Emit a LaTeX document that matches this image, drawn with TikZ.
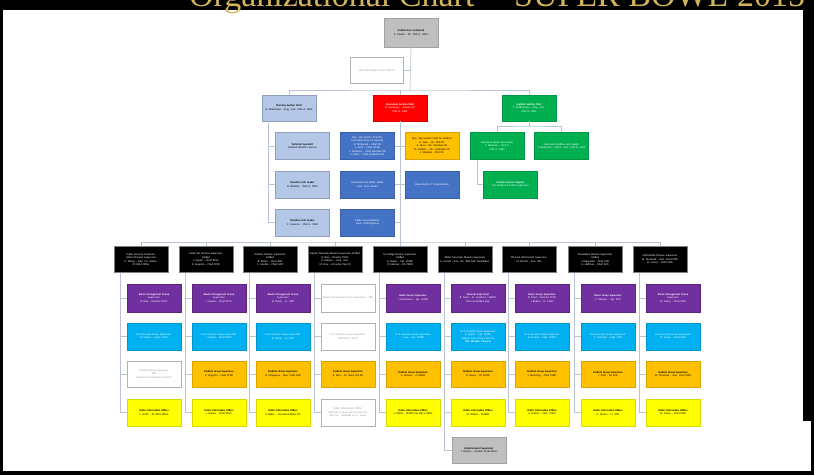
\documentclass[tikz,border=0pt]{standalone}
\usepackage{fontspec}
\setmainfont{Carlito}
\newfontfamily\titlefont{Liberation Serif}
\usetikzlibrary{calc}
\definecolor{cpurple}{HTML}{7030A0}
\definecolor{ccyan}{HTML}{00B0F0}
\definecolor{corange}{HTML}{FFC000}
\definecolor{cyellow}{HTML}{FFFF00}
\definecolor{cblue}{HTML}{4472C4}
\definecolor{cpale}{HTML}{B4C7E7}
\definecolor{cred}{HTML}{FF0000}
\definecolor{cgreen}{HTML}{00B050}
\definecolor{cgray}{HTML}{BFBFBF}
\definecolor{cline}{HTML}{B8C4D6}
\definecolor{cgold}{HTML}{D2B45A}
\tikzset{
  orgbox/.style={rectangle, minimum width=54pt, minimum height=27pt, text width=50pt, inner sep=0.5pt, align=center, font=\fontsize{2.7}{3.5}\selectfont},
  pbox/.style={orgbox, fill=cpurple, draw=cpurple!80!black, text=white},
  cbox/.style={orgbox, fill=ccyan, draw=ccyan!85!black, text=white},
  obox/.style={orgbox, fill=corange, draw=corange!85!black, text=black},
  ybox/.style={orgbox, fill=cyellow, draw=cyellow!85!black, text=black},
  bbox/.style={orgbox, fill=cblue, draw=cblue!85!black, text=white},
  palebox/.style={orgbox, fill=cpale, draw=cpale!80!black, text=black},
  redbox/.style={orgbox, fill=cred, draw=cred!85!black, text=white},
  greenbox/.style={orgbox, fill=cgreen, draw=cgreen!85!black, text=white},
  graybox/.style={orgbox, fill=cgray, draw=cgray!85!black, text=black},
  divbox/.style={orgbox, fill=black, draw=gray, text=white, minimum height=26pt},
  offbox/.style={orgbox, fill=white, draw=gray!60, text=gray!80},
  conn/.style={draw=cline, line width=0.6pt}
}
\begin{document}
\begin{tikzpicture}[x=1pt,y=-1pt]
\useasboundingbox (0,0) rectangle (814,475);
\clip (0,0) rectangle (814,475);
\fill[black] (0,0) rectangle (814,475);
\fill[white] (3,10) rectangle (803,471);
\fill[white] (3,421) rectangle (811,471);
\node[text=cgold, font=\titlefont\fontsize{34}{34}\selectfont, anchor=base] (title) at (497,6) {Organizational Chart -- SUPER BOWL 2015};

% top level
\node[graybox, minimum height=29pt] (uac) at (411,32.5) {\textbf{Unified Area Command}\\A. Mosier -- Ch. PHX Lt. OEM};
\node[offbox, minimum width=53pt, minimum height=26pt] (jic) at (376.5,70.5) {Joint Information Center Officer};

% section chiefs
\node[palebox, minimum height=26pt] (plan) at (289,108) {\textbf{Planning Section Chief}\\B. Whitehead -- Prog. Asst. PHX Lt. OEM};
\node[redbox, minimum height=26pt] (ops) at (400,108) {\textbf{Operations Section Chief}\\D. Hennegan -- Deputy PD\\PHX Lt. OEM};
\node[greenbox, minimum height=26pt] (logi) at (529,108) {\textbf{Logistics Section Chief}\\C. Druffelmann -- Prog. Asst.\\PHX Lt. OEM};

% planning subs
\node[palebox] (ps1) at (302.5,146) {\textbf{Technical Specialist}\\National Weather Service};
\node[palebox] (ps2) at (302.5,184.5) {\textbf{Situation Unit Leader}\\B. Webster -- PHX Lt. OEM};
\node[palebox] (ps3) at (302.5,222.5) {\textbf{Situation Unit Leader}\\C. Cameron -- PHX Lt. OEM};

% operations subs
\node[bbox] (ob1) at (367.5,146) {Dep. Ops Section Chief for Law Enforcement \& Security\\D. McDonald -- Chief PD\\S. Scott -- Chief MCSO\\L. Mullaney -- Chief Glendale PD\\C. Hahn -- Chief Scottsdale PD};
\node[bbox] (ob2) at (367.5,184.5) {Department of Public Safety\\Lieut. Dave Dolant};
\node[bbox] (ob3) at (367.5,222.5) {Public Local Relations\\Lieut. Matt Highway};
\node[obox] (oo1) at (432,146) {Dep. Ops Section Chief for Medical\\E. Sabo -- Dir. PHX FD\\K. Nerci -- Dir. Glendale FD\\M. Sanders -- Dir. Scottsdale FD\\J. Waldron -- PHX FD};
\node[bbox] (ob4) at (432,184.5) {Department of Transportation};

% logistics subs
\node[greenbox] (g1) at (497,146) {Communications Unit Leader\\T. Bozeman -- Tech II\\PHX Lt. OEM};
\node[greenbox] (g2) at (561.5,146) {Food and Facilities Unit Leader\\P. Kurkowski -- Admin. Asst. PHX Lt. OEM};
\node[greenbox] (g3) at (510.5,184.5) {\textbf{Unified Services Support}\\Fire Medical \& Public Supervisor};

% divisions
\node[divbox] (d1) at (141,259.5) {Public Security Communications Division Supervisor\\G. Moses -- Dep. Co. Admin.\\PC OEM Office};
\node[divbox] (d2) at (206,259.5) {Public Div Division Supervisor\\Unified\\J. Kaplan -- Chief PCSO\\K. Angevlin -- Chief PCFD};
\node[divbox] (d3) at (270,259.5) {Anthem Division Supervisor\\Unified\\B. Parker -- Chief APD\\C. Gordon -- Chief AFD};
\node[divbox] (d4) at (335,259.5) {Superb Township Division Supervisor Unified\\R. Bray -- Director PCSO\\K. Dobson -- Lieut. Asst.\\M. Zero -- AC Jackie Top FD};
\node[divbox] (d5) at (400,259.5) {Sun Ridge Division Supervisor\\Unified\\G. Kogler -- Cpt. ZMPD\\P. Coleman -- DC ZMFD};
\node[divbox] (d6) at (465,259.5) {Water Mountain Division Supervisor\\E. Carroll -- Asst. Dir. WM Park Foundation};
\node[divbox] (d7) at (529,259.5) {Pleasant Hill Division Supervisor\\M. Brandt -- Asst. DM};
\node[divbox] (d8) at (595,259.5) {Ahwatukee Division Supervisor\\Unified\\J. Edgecomb -- Chief APD\\G. Hoffman -- Chief AFD};
\node[divbox] (d9) at (660,259.5) {Mid-Middle Division Supervisor\\M. Olmstead -- Asst. Chief MPD\\M. Coney -- Chief MFD};

% column 1
\node[pbox, minimum height=28pt] (p1) at (154,298) {\textbf{Route Management Group}\\Supervisor\\R. Bray -- Director PCSO};
\node[cbox] (c1) at (154,336.5) {LE \& Security Group Supervisor\\D. Mahon -- Capt. PCSO};
\node[offbox, minimum height=26pt] (m1) at (154,374) {Medical Group Supervisor\\TBD\\Western Fire Resources District};
\node[ybox] (y1) at (154,412.5) {\textbf{Public Information Officer}\\L. Smith -- PC OEM Office};
% column 2
\node[pbox, minimum height=28pt] (p2) at (219,298) {\textbf{Route Management Group}\\Supervisor\\J. Kaplan -- Chief PCSO};
\node[cbox] (c2) at (219,336.5) {LE \& Security Group Supervisor\\J. Kaplan -- Chief PCSO};
\node[obox, minimum height=26pt] (m2) at (219,374) {\textbf{Medical Group Supervisor}\\K. Angevlin -- Chief PCFD};
\node[ybox] (y2) at (219,412.5) {\textbf{Public Information Officer}\\J. Kaplan -- Chief PCSO};
% column 3
\node[pbox, minimum height=28pt] (p3) at (283,298) {\textbf{Route Management Group}\\Supervisor\\B. Parker -- Lt. APD};
\node[cbox] (c3) at (283,336.5) {LE \& Security Group Supervisor\\B. Parker -- Lt. APD};
\node[obox, minimum height=26pt] (m3) at (283,374) {\textbf{Medical Group Supervisor}\\B. Chiappone -- Dep. Chief AFD};
\node[ybox] (y3) at (283,412.5) {\textbf{Public Information Officer}\\A. Baker -- Communications Dir.};
% column 4
\node[offbox, minimum height=28pt] (p4) at (348,298) {Route Management Group Supervisor -- TBD};
\node[offbox] (c4) at (348,336.5) {LE \& Security Group Supervisor\\Deferred to SR SE};
\node[obox, minimum height=26pt] (m4) at (348,374) {\textbf{Medical Group Supervisor}\\R. Zero -- AC Jackie Top FD};
\node[offbox] (y4) at (348,412.5) {Public Information Officer\\Deferred to Area Command \& Unified Info. Operated by Lt. Jackie};
% column 5
\node[pbox, minimum height=28pt] (p5) at (413,298) {\textbf{Route Group Supervisor}\\J. Rosenblum -- Sgt. ZMPD};
\node[cbox] (c5) at (413,336.5) {LE \& Security Group Supervisor\\J. Lee -- Cpt. ZMPD};
\node[obox, minimum height=26pt] (m5) at (413,374) {\textbf{Medical Group Supervisor}\\G. Masaro -- CJ ZMFD};
\node[ybox] (y5) at (413,412.5) {\textbf{Public Information Officer}\\S. White -- ZMPD City Mgr.'s Office};
% column 6
\node[pbox, minimum height=28pt] (p6) at (478,298) {\textbf{Grounds Supervisor}\\B. Travis -- Sr. Assistant / WMPF\\Park Foundation Rep.};
\node[cbox] (c6) at (478,336.5) {LE \& Security Group Supervisor\\G. Kogler -- Cpt. ZMPD\\Support from Private Security\\\textbf{D.B. Sheldon, Pinnacle}};
\node[obox, minimum height=26pt] (m6) at (478,374) {\textbf{Medical Group Supervisor}\\D. Hayes -- DC ZMFD};
\node[ybox] (y6) at (478,412.5) {\textbf{Public Information Officer}\\M. Walker -- ZMWM};
\node[graybox, minimum height=26pt] (ent) at (479,450) {\textbf{Entertainment Supervisor}\\T. Daniels -- Headart Productions};
% column 7
\node[pbox, minimum height=28pt] (p7) at (542,298) {\textbf{Route Group Supervisor}\\R. Peart -- Director PCSO\\J. Britton -- Lt. PCSO};
\node[cbox] (c7) at (542,336.5) {LE \& Security Group Supervisor\\B. Kramer -- Capt. PHPD};
\node[obox, minimum height=26pt] (m7) at (542,374) {\textbf{Medical Group Supervisor}\\J. Hemming -- Chief PHFD};
\node[ybox] (y7) at (542,412.5) {\textbf{Public Information Officer}\\A. Kramer -- Capt. PHPD};
% column 8
\node[pbox, minimum height=28pt] (p8) at (608,298) {\textbf{Route Group Supervisor}\\T. Gallegos -- Sgt. APD};
\node[cbox] (c8) at (608,336.5) {LE \& Security Group Supervisor\\T. Forbright -- Capt. APD};
\node[obox, minimum height=26pt] (m8) at (608,374) {\textbf{Medical Group Supervisor}\\J. Pratt -- BC AFD};
\node[ybox] (y8) at (608,412.5) {\textbf{Public Information Officer}\\G. Nelson -- Lt. APD};
% column 9
\node[pbox, minimum height=28pt] (p9) at (673,298) {\textbf{Route Management Group}\\Supervisor\\M. Coney -- Chief MFD};
\node[cbox] (c9) at (673,336.5) {LE \& Security Group Supervisor\\M. Coney -- Chief MFD};
\node[obox, minimum height=26pt] (m9) at (673,374) {\textbf{Medical Group Supervisor}\\M. Olmstead -- Asst. Chief MPD};
\node[ybox] (y9) at (673,412.5) {\textbf{Public Information Officer}\\M. Coney -- Chief MFD};

% connectors
\coordinate (topbus) at (410,90);
\draw[conn] (uac.south) -- (topbus);
\draw[conn] (jic.east) -- (jic.east -| topbus);
\draw[conn] (plan.north) |- (topbus) -| (logi.north);
\draw[conn] (ops.north) -- (ops.north |- topbus);

\coordinate (plbus) at ([xshift=-21pt]plan.south);
\draw[conn] (plbus) |- (ps3.west);
\draw[conn] (ps1.west) -- (ps1.west -| plbus);
\draw[conn] (ps2.west) -- (ps2.west -| plbus);

\coordinate (divbus) at (400,242);
\draw[conn] (ops.south) -- (divbus);
\draw[conn] (ob1.east) -- (ob1.east -| divbus);
\draw[conn] (ob2.east) -- (ob2.east -| divbus);
\draw[conn] (ob3.east) -- (ob3.east -| divbus);
\draw[conn] (oo1.west) -- (oo1.west -| divbus);
\draw[conn] (ob4.west) -- (ob4.west -| divbus);

\coordinate (lbus) at (529,126);
\draw[conn] (logi.south) -- (lbus);
\draw[conn] (g1.north) |- (lbus) -| (g2.north);
\coordinate (g1v) at ([xshift=-20pt]g1.south);
\draw[conn] (g1v) |- (g3.west);

\draw[conn] (d1.north) |- (divbus) -| (d9.north);
\foreach \i in {2,...,8} {\draw[conn] (d\i.north) -- (d\i.north |- divbus);}
\foreach \i in {1,...,9} {
  \coordinate (v\i) at ([xshift=6pt]d\i.south west);
  \draw[conn] (v\i) |- (y\i.west);
  \draw[conn] (p\i.west) -- (p\i.west -| v\i);
  \draw[conn] (c\i.west) -- (c\i.west -| v\i);
  \draw[conn] (m\i.west) -- (m\i.west -| v\i);
}
\draw[conn] (v6) |- (ent.west);
\end{tikzpicture}
\end{document}
